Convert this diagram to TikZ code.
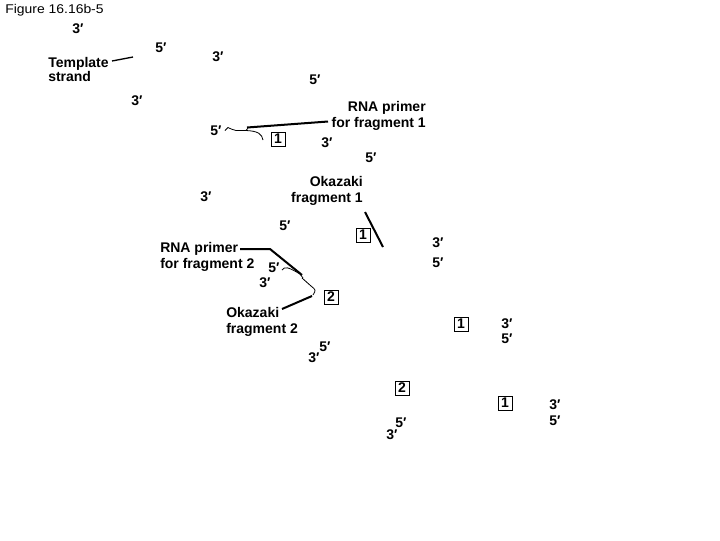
\documentclass[tikz,border=0pt]{standalone}
\usepackage{fontspec}
\setmainfont{Liberation Sans}
\begin{document}
\begin{tikzpicture}[x=0.75pt,y=-0.75pt,
  lab/.style={font=\fontsize{10.5}{12}\selectfont\bfseries, inner sep=0pt},
  txt/.style={font=\fontsize{10.5}{12}\selectfont\bfseries, inner sep=0pt},
  num/.style={draw, line width=0.6pt, minimum size=10.5pt, inner sep=0pt, font=\fontsize{10.5}{10.5}\selectfont\bfseries},
  lead/.style={line width=1.5pt},
  strand/.style={line width=0.6pt}]
\useasboundingbox (0,0) rectangle (720,540);

% title
\node[anchor=west, inner sep=0pt, font=\fontsize{9.5}{10}\selectfont, xscale=1.1] (title) at (5,10) {Figure 16.16b-5};

% strand end labels
\node[lab] (a1) at (78,29) {3′};
\node[lab] (a2) at (161,48) {5′};
\node[lab] (a3) at (218,57) {3′};
\node[lab] (a4) at (315,80) {5′};
\node[lab] (a5) at (137,101) {3′};
\node[lab] (a6) at (216,131) {5′};
\node[lab] (a7) at (327,143) {3′};
\node[lab] (a8) at (371,158) {5′};
\node[lab] (a9) at (206,197) {3′};
\node[lab] (a10) at (285,226) {5′};
\node[lab] (a11) at (438,243) {3′};
\node[lab] (a12) at (438,263) {5′};
\node[lab] (a13) at (274,268) {5′};
\node[lab] (a14) at (265,283) {3′};
\node[lab] (a15) at (325,347) {5′};
\node[lab] (a16) at (314,358) {3′};
\node[lab] (a17) at (507,324) {3′};
\node[lab] (a18) at (507,339) {5′};
\node[lab] (a19) at (401,423) {5′};
\node[lab] (a20) at (392,435) {3′};
\node[lab] (a21) at (555,405) {3′};
\node[lab] (a22) at (555,421) {5′};

% numbered boxes
\node[num] (b1) at (278,139) {1};
\node[num] (b2) at (363,235) {1};
\node[num] (b3) at (331,297) {2};
\node[num] (b4) at (461,324) {1};
\node[num] (b5) at (402,388) {2};
\node[num] (b6) at (505,403) {1};

% text labels
\node[txt, anchor=west, align=left, font=\fontsize{10.5}{10.5}\selectfont\bfseries] (tmpl) at (48,69) {Template\\strand};
\node[txt, anchor=east, align=right] (rp1) at (426,116) {RNA primer\\for fragment 1};
\node[txt, anchor=east, align=right] (ok1) at (363,191) {Okazaki\\fragment 1};
\node[txt, anchor=west, align=left] (rp2) at (160,257) {RNA primer\\for fragment 2};
\node[txt, anchor=west, align=left] (ok2) at (226,322) {Okazaki\\fragment 2};

% leader lines
\coordinate (tmplS) at (112,61);
\coordinate (tmplE) at (133,57);
\draw[line width=1pt] (tmplS) -- (tmplE);

\coordinate (rp1S) at (328,121.5);
\coordinate (rp1E) at (247,127.5);
\draw[lead] (rp1S) -- (rp1E);

\coordinate (ok1S) at (365,212);
\coordinate (ok1E) at (383,247);
\draw[lead] (ok1S) -- (ok1E);

\coordinate (rp2S) at (240,249);
\coordinate (rp2K) at (270,249);
\coordinate (rp2E) at (302,275);
\draw[lead] (rp2S) -- (rp2K) -- (rp2E);

\coordinate (ok2S) at (282,309);
\coordinate (ok2E) at (312,296);
\draw[lead] (ok2S) -- (ok2E);

% thin strand squiggles
\draw[strand] (225,130.5) -- (228,127.5) .. controls (231,129) .. (236,130.5) -- (246,130.5) -- (248,128);
\draw[strand] (246,130.5) .. controls (258,131) and (262,134) .. (263,140);
\draw[strand] (282,270) .. controls (285,266) and (288,267) .. (300,274) -- (303,278);
\draw[strand] (302,278) -- (311,286) .. controls (316,290) .. (313,295);
\end{tikzpicture}
\end{document}
